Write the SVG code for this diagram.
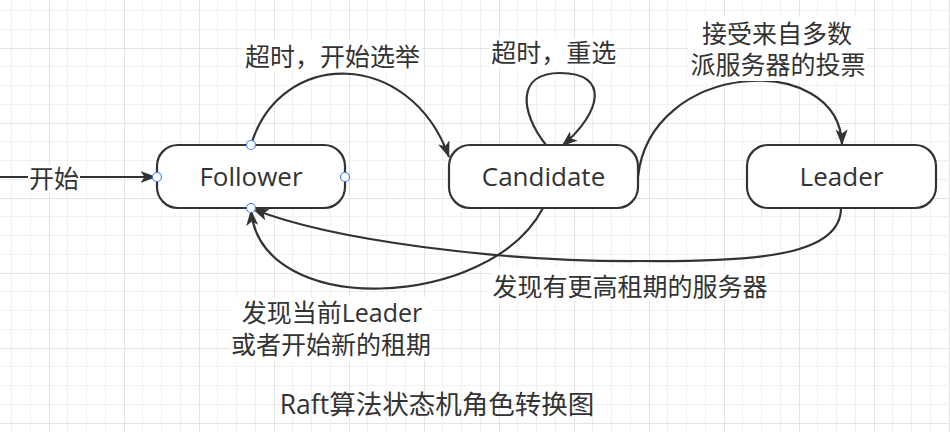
<svg xmlns="http://www.w3.org/2000/svg" width="950" height="432" viewBox="0 0 950 432">
<defs>
<pattern id="grid" patternUnits="userSpaceOnUse" x="11" y="10" width="75" height="75">
<rect x="0" y="0" width="1" height="75" fill="#f0f0f0"/>
<rect x="19" y="0" width="1" height="75" fill="#f0f0f0"/>
<rect x="56" y="0" width="1" height="75" fill="#f0f0f0"/>
<rect x="0" y="0" width="75" height="1" fill="#f0f0f0"/>
<rect x="0" y="19" width="75" height="1" fill="#f0f0f0"/>
<rect x="0" y="56" width="75" height="1" fill="#f0f0f0"/>
<rect x="38" y="0" width="1" height="75" fill="#e3e3e3"/>
<rect x="0" y="38" width="75" height="1" fill="#e3e3e3"/>
</pattern>
<marker id="arrow" viewBox="0 0 16 12" markerWidth="16" markerHeight="12" markerUnits="userSpaceOnUse" refX="15.5" refY="6" orient="auto">
<path d="M0,0 L16,6 L0,12 L4,6 z" fill="#333333"/>
</marker>
</defs>
<style>
.node rect { fill: #ffffff; stroke: #333333; stroke-width: 2.2; }
.node text { font-family: "Open Sans", "Noto Sans", sans-serif; font-size: 26px; fill: #333333; text-anchor: middle; }
.edge { fill: none; stroke: #333333; stroke-width: 2.2; marker-end: url(#arrow); }
.lbl { font-family: "Open Sans", "Noto Sans CJK SC", sans-serif; font-size: 25px; fill: #333333; text-anchor: middle; }
.ttl { font-size: 26.5px; }
.bg { fill: #ffffff; }
.port { fill: #ffffff; stroke: #3a86f0; stroke-width: 1.2; }
</style>
<rect x="0" y="0" width="950" height="432" fill="#ffffff"/>
<rect x="0" y="0" width="950" height="432" fill="url(#grid)"/>

<g id="connectors">
<path class="edge" d="M0,177 L156,177"/>
<path class="edge" d="M251,145 C280,48 410,48 449,157"/>
<path class="edge" d="M546,145 C520,112 516,73 560,73 C610,73 602,112 562,146"/>
<path class="edge" d="M638,177 C650,60 840,50 842,145"/>
<path class="edge" d="M841,208 C841,255 760,262 640,261 C500,262 330,240 253,209"/>
<path class="edge" d="M543,208 C490,310 260,320 251,210"/>
</g>

<g id="labels">
<rect class="bg" x="28" y="165" width="52" height="27"/>
<text class="lbl" x="54" y="187.5">开始</text>
<rect class="bg" x="243" y="40" width="179" height="32"/>
<text class="lbl" x="332.5" y="65.5">超时，开始选举</text>
<rect class="bg" x="490" y="38" width="127" height="29"/>
<text class="lbl" x="553.7" y="62">超时，重选</text>
<rect class="bg" x="688" y="17" width="179" height="64"/>
<text class="lbl" x="777" y="42.5">接受来自多数</text>
<text class="lbl" x="778" y="73.5">派服务器的投票</text>
<rect class="bg" x="230" y="297" width="203" height="64"/>
<text class="lbl" x="332" y="321.5">发现当前Leader</text>
<text class="lbl" x="331" y="353.5">或者开始新的租期</text>
<rect class="bg" x="492" y="268" width="276" height="32"/>
<text class="lbl" x="630" y="295.5">发现有更高租期的服务器</text>
</g>

<g id="follower" class="node">
<rect x="157" y="145" width="188" height="63" rx="21" ry="21"/>
<text x="251" y="186">Follower</text>
</g>
<g id="candidate" class="node">
<rect x="449" y="145" width="189" height="63" rx="21" ry="21"/>
<text x="543.5" y="186">Candidate</text>
</g>
<g id="leader" class="node">
<rect x="747" y="145" width="189" height="63" rx="21" ry="21"/>
<text x="841.5" y="186">Leader</text>
</g>

<g id="ports">
<circle class="port" cx="251" cy="145" r="4.5"/>
<circle class="port" cx="157" cy="177" r="4.5"/>
<circle class="port" cx="345" cy="177" r="4.5"/>
<circle class="port" cx="251" cy="208" r="4.5"/>
</g>

<g id="title">
<text class="lbl ttl" x="437" y="414">Raft算法状态机角色转换图</text>
</g>
</svg>
